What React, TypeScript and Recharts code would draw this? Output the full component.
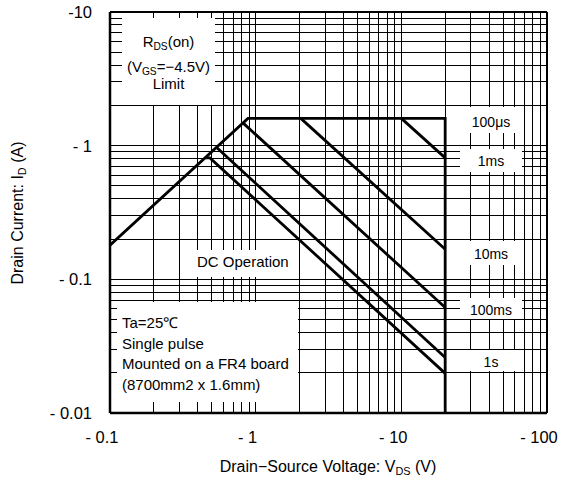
import React from 'react';
import { LineChart, Line, XAxis, YAxis, ReferenceLine } from 'recharts';

// Drain-source voltage ticks (V, magnitude) and drain current ticks (A, magnitude)
const voltageTicks = [0.1, 1, 10, 100];
const currentTicks = [0.01, 0.1, 1, 10];
const gridSteps = [1, 2, 3, 4, 5, 6, 7, 8, 9];

// SOA boundaries
const rdsLimit100us = [
  { v: 0.1, i: 0.18 },
  { v: 0.885, i: 1.6 },
  { v: 20, i: 1.6 },
  { v: 20, i: 0.01 },
];
const pulse1ms = [
  { v: 10, i: 1.6 },
  { v: 20, i: 0.81 },
];
const pulse10ms = [
  { v: 2.04, i: 1.6 },
  { v: 20, i: 0.168 },
];
const pulse100ms = [
  { v: 0.818, i: 1.48 },
  { v: 20, i: 0.0615 },
];
const pulse1s = [
  { v: 0.542, i: 0.965 },
  { v: 20, i: 0.026 },
];
const dcOperation = [
  { v: 0.45, i: 0.81 },
  { v: 0.485, i: 0.81 },
  { v: 20, i: 0.0198 },
];

const curves = [rdsLimit100us, pulse1ms, pulse10ms, pulse100ms, pulse1s, dcOperation];

const gridX = voltageTicks.slice(0, -1).flatMap((d) => gridSteps.map((s) => +(d * s).toPrecision(3)));
const gridY = currentTicks.slice(0, -1).flatMap((d) => gridSteps.map((s) => +(d * s).toPrecision(3)));

const FONT = '"Liberation Sans", Arial, sans-serif';

const box = (left: number, top: number, width: number, height: number): React.CSSProperties => ({
  position: 'absolute',
  left,
  top,
  width,
  height,
  background: '#fff',
});

const line = (top: number, left?: number): React.CSSProperties => ({
  position: 'absolute',
  top: top - 9,
  height: 18,
  lineHeight: '18px',
  left: left ?? 0,
  right: left === undefined ? 0 : undefined,
  textAlign: left === undefined ? 'center' : 'left',
  whiteSpace: 'nowrap',
});

const sub: React.CSSProperties = { fontSize: '0.68em', verticalAlign: '-0.25em' };

export default function App() {
  return (
    <div style={{ position: 'absolute', left: 0, top: 0, width: 576, height: 489, fontFamily: FONT, color: '#000' }}>
      <LineChart width={576} height={489} margin={{ top: 12, right: 29, bottom: 0, left: 0 }}>
        <XAxis
          dataKey="v"
          type="number"
          scale="log"
          domain={[0.1, 100]}
          ticks={voltageTicks}
          interval={0}
          allowDataOverflow
          height={76}
          tickLine={false}
          axisLine={false}
          tickSize={0}
          tickMargin={18}
          tick={{ fontSize: 16.5, fill: '#000', fontFamily: FONT, dx: -8 }}
          tickFormatter={(v: number) => '- ' + v}
        />
        <YAxis
          dataKey="i"
          type="number"
          scale="log"
          domain={[0.01, 10]}
          ticks={currentTicks}
          interval={0}
          allowDataOverflow
          width={110}
          tickLine={false}
          axisLine={false}
          tickSize={0}
          tickMargin={18}
          tick={{ fontSize: 16.5, fill: '#000', fontFamily: FONT }}
          tickFormatter={(v: number) => (v === 10 ? '-10' : '- ' + v)}
        />
        {gridX.map((x) => (
          <ReferenceLine key={'gx' + x} x={x} stroke="#000" strokeWidth={1} shapeRendering="crispEdges" />
        ))}
        {gridY.map((y) => (
          <ReferenceLine key={'gy' + y} y={y} stroke="#000" strokeWidth={1} shapeRendering="crispEdges" />
        ))}
        <ReferenceLine x={0.1} stroke="#000" strokeWidth={2.5} />
        <ReferenceLine x={100} stroke="#000" strokeWidth={2} />
        <ReferenceLine y={0.01} stroke="#000" strokeWidth={2.5} />
        <ReferenceLine y={10} stroke="#000" strokeWidth={2} />
        {curves.map((data, k) => (
          <Line
            key={k}
            data={data}
            dataKey="i"
            type="linear"
            stroke="#000"
            strokeWidth={2.8}
            dot={false}
            activeDot={false}
            isAnimationActive={false}
          />
        ))}
      </LineChart>

      <div style={{ ...box(122, 18, 93, 87), fontSize: 15 }}>
        <div style={line(24)}>
          R<span style={sub}>DS</span>(on)
        </div>
        <div style={line(49)}>
          (V<span style={sub}>GS</span>=−4.5V)
        </div>
        <div style={line(66)}>Limit</div>
      </div>

      <div style={{ ...box(185, 250, 111, 27), fontSize: 15 }}>
        <div style={line(12, 12)}>DC Operation</div>
      </div>

      <div style={{ ...box(117, 302, 181, 100), fontSize: 15 }}>
        <div style={line(21, 5)}>Ta=25℃</div>
        <div style={line(42, 5)}>Single pulse</div>
        <div style={line(62, 5)}>Mounted on a FR4 board</div>
        <div style={line(83, 5)}>(8700mm2 x 1.6mm)</div>
      </div>

      <div style={{ ...box(460, 107, 62, 26), fontSize: 14 }}>
        <div style={line(15)}>100μs</div>
      </div>
      <div style={{ ...box(460, 149, 62, 23), fontSize: 14 }}>
        <div style={line(12)}>1ms</div>
      </div>
      <div style={{ ...box(460, 241, 62, 24), fontSize: 14 }}>
        <div style={line(13)}>10ms</div>
      </div>
      <div style={{ ...box(460, 298, 62, 21), fontSize: 14 }}>
        <div style={line(12)}>100ms</div>
      </div>
      <div style={{ ...box(460, 350, 62, 21), fontSize: 14 }}>
        <div style={line(12)}>1s</div>
      </div>

      <div
        style={{
          position: 'absolute',
          left: 18 - 150,
          top: 213 - 10,
          width: 300,
          height: 20,
          lineHeight: '20px',
          textAlign: 'center',
          fontSize: 16,
          transform: 'rotate(-90deg)',
          whiteSpace: 'nowrap',
        }}
      >
        Drain Current: I<span style={sub}>D</span> (A)
      </div>
      <div
        style={{
          position: 'absolute',
          left: 328 - 200,
          top: 467 - 10,
          width: 400,
          height: 20,
          lineHeight: '20px',
          textAlign: 'center',
          fontSize: 16,
          whiteSpace: 'nowrap',
        }}
      >
        Drain−Source Voltage: V<span style={sub}>DS</span> (V)
      </div>
    </div>
  );
}
